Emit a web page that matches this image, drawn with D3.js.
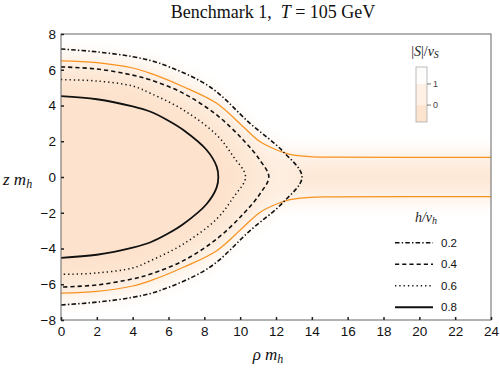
<!DOCTYPE html>
<html>
<head>
<meta charset="utf-8">
<script src="https://cdn.jsdelivr.net/npm/d3@7"></script>
<style>
  body { margin: 0; background: #fff; }
  svg { display: block; }
  .tick text { font-family: "Liberation Sans", Arial, sans-serif; font-size: 13.5px; fill: #111; }
  .serif { font-family: "Liberation Serif", "Times New Roman", serif; }
</style>
</head>
<body>
<svg id="chart" width="500" height="376"></svg>
<script>
// axis ticks
var rhoTicks = [0, 2, 4, 6, 8, 10, 12, 14, 16, 18, 20, 22, 24];
var zTicks = [-8, -6, -4, -2, 0, 2, 4, 6, 8];

// h/v_h contours, upper half [rho m_h, z m_h] (mirrored in z)
var hLevels = ["0.2", "0.4", "0.6", "0.8"];
var contour02 = [[0, 7.16], [2, 7.0], [4, 6.73], [5.5, 6.36], [8.3, 5.05], [10.55, 3.0], [12.4, 1.42], [13.45, 0]];
var contour04 = [[0, 6.16], [2, 6.04], [4, 5.7], [5, 5.43], [6.83, 4.68], [8.69, 3.47], [10.17, 2.07], [11.1, 0.95], [11.6, 0]];
var contour06 = [[0, 5.45], [2, 5.37], [4, 5.09], [5, 4.68], [6.83, 3.75], [8.69, 2.35], [9.62, 1.14], [10.3, 0]];
var contour08 = [[0, 4.52], [2, 4.35], [4, 3.95], [5, 3.65], [6, 3.15], [6.83, 2.63], [8.13, 1.51], [8.69, 0.58], [8.78, 0]];

// |S|/v_S contour (orange), upper branch
var sContour = [[0, 6.5], [2, 6.4], [4, 6.1], [5, 5.8], [6.83, 5.05], [8.69, 4.12], [10.17, 2.81], [11.1, 1.98], [12.04, 1.51], [12.78, 1.27], [13.9, 1.14], [15, 1.11], [24, 1.1]];
// |S|/v_S string along z = 0 : half widths of shading bands
var tailBands = [1.6, 0.45];
var tailStart = [12.4, 13];

// colour bar
var sBarLevels = [1.8, 1, 0, -0.8];
var sBarTicks = [1, 0];
var sBarColors = ["#fefdfc", "#fef0e4", "#fde4cf"];

var svg = d3.select("#chart");
var x = d3.scaleLinear().domain([0, 24]).range([61, 491]);
var y = d3.scaleLinear().domain([-8, 8]).range([320, 34]);

var defs = svg.append("defs");
defs.append("clipPath").attr("id", "plotclip")
  .append("rect").attr("x", 61).attr("y", 34).attr("width", 430).attr("height", 286);
defs.append("filter").attr("id", "soft")
  .attr("x", "-20%").attr("y", "-20%").attr("width", "140%").attr("height", "140%")
  .append("feGaussianBlur").attr("stdDeviation", 7);

var mirror = function (pts) {
  var low = pts.slice(0, pts.length - 1).reverse().map(function (p) { return [p[0], -p[1]]; });
  return pts.concat(low);
};
var line = d3.line()
  .x(function (d) { return x(d[0]); })
  .y(function (d) { return y(d[1]); })
  .curve(d3.curveCatmullRom.alpha(0.5));

// closed region with a short extension past rho = 0 (for the blur)
var region = function (pts) {
  var full = mirror(pts);
  var ext = [[-2, full[0][1]]].concat(full).concat([[-2, full[full.length - 1][1]]]);
  return line(ext) + "Z";
};

// background density of |S|/v_S
var bg = svg.append("g").attr("clip-path", "url(#plotclip)")
  .append("g").attr("filter", "url(#soft)");

bg.append("path").attr("d", region(contour02)).attr("fill", "#fef6ee");
bg.append("rect")
  .attr("x", x(tailStart[0])).attr("y", y(tailBands[0]))
  .attr("width", x(27) - x(tailStart[0])).attr("height", y(-tailBands[0]) - y(tailBands[0]))
  .attr("fill", "#fef6ee");

var sUpper = [[-2, sContour[0][1]]].concat(sContour).concat([[28, sContour[sContour.length - 1][1]]]);
var sLower = sUpper.slice().reverse().map(function (p) { return [p[0], -p[1]]; });
bg.append("path").attr("d", line(sUpper.concat(sLower)) + "Z").attr("fill", "#feeee1");
bg.append("path").attr("d", region(contour04)).attr("fill", "#fde8d6");
bg.append("path").attr("d", region(contour06)).attr("fill", "#fde3cd");
bg.append("rect")
  .attr("x", x(tailStart[1])).attr("y", y(tailBands[1]))
  .attr("width", x(27) - x(tailStart[1])).attr("height", y(-tailBands[1]) - y(tailBands[1]))
  .attr("fill", "#fde7d5");

// contours
var plot = svg.append("g").attr("clip-path", "url(#plotclip)");
var styles = [
  { data: contour02, dash: "4.5,2.2,1.4,2.2", w: 1.6 },
  { data: contour04, dash: "4.2,3", w: 1.6 },
  { data: contour06, dash: "1.3,3", w: 1.5 },
  { data: contour08, dash: null, w: 1.8 }
];

plot.append("path").attr("d", line(sContour)).attr("fill", "none")
  .attr("stroke", "#f7921e").attr("stroke-width", 1.2);
plot.append("path").attr("d", line(sContour.map(function (p) { return [p[0], -p[1]]; })))
  .attr("fill", "none").attr("stroke", "#f7921e").attr("stroke-width", 1.2);

styles.forEach(function (s) {
  plot.append("path").attr("d", line(mirror(s.data)))
    .attr("fill", "none").attr("stroke", "#111")
    .attr("stroke-width", s.w)
    .attr("stroke-dasharray", s.dash);
});

// frame and axes
svg.append("rect").attr("x", 61).attr("y", 34).attr("width", 430).attr("height", 286)
  .attr("fill", "none").attr("stroke", "#666").attr("stroke-width", 1);

var xAxis = svg.append("g").attr("transform", "translate(0,320)")
  .call(d3.axisBottom(x).tickValues(rhoTicks).tickSize(-3).tickPadding(5));
var yAxis = svg.append("g").attr("transform", "translate(61,0)")
  .call(d3.axisLeft(y).tickValues(zTicks).tickSize(-3).tickPadding(5)
    .tickFormat(function (d) { return d < 0 ? "\u2212" + Math.abs(d) : d; }));
[xAxis, yAxis].forEach(function (a) {
  a.select(".domain").remove();
  a.selectAll(".tick line").attr("stroke", "#222").attr("stroke-width", 1.5);
});
xAxis.selectAll(".tick text").attr("dy", "0.8em");

// title
var title = svg.append("text").attr("class", "serif").attr("x", 273).attr("y", 18)
  .attr("text-anchor", "middle").attr("font-size", 18).attr("fill", "#111")
  .style("white-space", "pre");
title.append("tspan").text("Benchmark 1,  ");
title.append("tspan").attr("font-style", "italic").text("T");
title.append("tspan").text(" = 105 GeV");

// axis titles
var xl = svg.append("text").attr("class", "serif").attr("x", 268).attr("y", 360)
  .attr("text-anchor", "middle").attr("font-size", 17).attr("font-style", "italic").attr("fill", "#111");
xl.append("tspan").text("\u03c1 m");
xl.append("tspan").attr("font-size", 12).attr("dy", 3).text("h");

var yl = svg.append("text").attr("class", "serif").attr("x", 3).attr("y", 185)
  .attr("font-size", 17).attr("font-style", "italic").attr("fill", "#111");
yl.append("tspan").text("z m");
yl.append("tspan").attr("font-size", 12).attr("dy", 3).text("h");

// colour bar legend for |S|/v_S
var cb = d3.scaleLinear().domain([sBarLevels[0], sBarLevels[3]]).range([67, 122]);
var st = svg.append("text").attr("class", "serif").attr("x", 425).attr("y", 56)
  .attr("text-anchor", "middle").attr("font-size", 14).attr("fill", "#222");
st.append("tspan").text("|");
st.append("tspan").attr("font-style", "italic").text("S");
st.append("tspan").text("|/");
st.append("tspan").attr("font-style", "italic").text("v");
st.append("tspan").attr("font-style", "italic").attr("font-size", 10).attr("dy", 2).text("S");

sBarColors.forEach(function (c, i) {
  svg.append("rect").attr("x", 416).attr("width", 11)
    .attr("y", cb(sBarLevels[i])).attr("height", cb(sBarLevels[i + 1]) - cb(sBarLevels[i]))
    .attr("fill", c);
});
svg.append("rect").attr("x", 416).attr("y", 67).attr("width", 11).attr("height", 55)
  .attr("fill", "none").attr("stroke", "#aaa").attr("stroke-width", 0.8);
sBarTicks.forEach(function (t) {
  svg.append("line").attr("x1", 427).attr("x2", 431).attr("y1", cb(t)).attr("y2", cb(t))
    .attr("stroke", "#555").attr("stroke-width", 0.8);
  svg.append("text").attr("x", 433).attr("y", cb(t) + 3)
    .attr("font-family", "Liberation Sans, Arial, sans-serif").attr("font-size", 9)
    .attr("fill", "#444").text(t);
});

// h/v_h line legend
var ht = svg.append("text").attr("class", "serif").attr("x", 426).attr("y", 222)
  .attr("text-anchor", "middle").attr("font-size", 14).attr("font-style", "italic").attr("fill", "#222");
ht.append("tspan").text("h/v");
ht.append("tspan").attr("font-size", 10).attr("dy", 2).text("h");

var leg = d3.scaleBand().domain(hLevels).range([232, 318]);
hLevels.forEach(function (lv, i) {
  var yy = leg(lv) + leg.bandwidth() / 2;
  svg.append("line").attr("x1", 395).attr("x2", 433).attr("y1", yy).attr("y2", yy)
    .attr("stroke", "#111").attr("stroke-width", styles[i].w)
    .attr("stroke-dasharray", styles[i].dash);
  svg.append("text").attr("x", 441).attr("y", yy + 4)
    .attr("font-family", "Liberation Sans, Arial, sans-serif").attr("font-size", 11.5)
    .attr("fill", "#111").text(lv);
});
</script>
</body>
</html>
